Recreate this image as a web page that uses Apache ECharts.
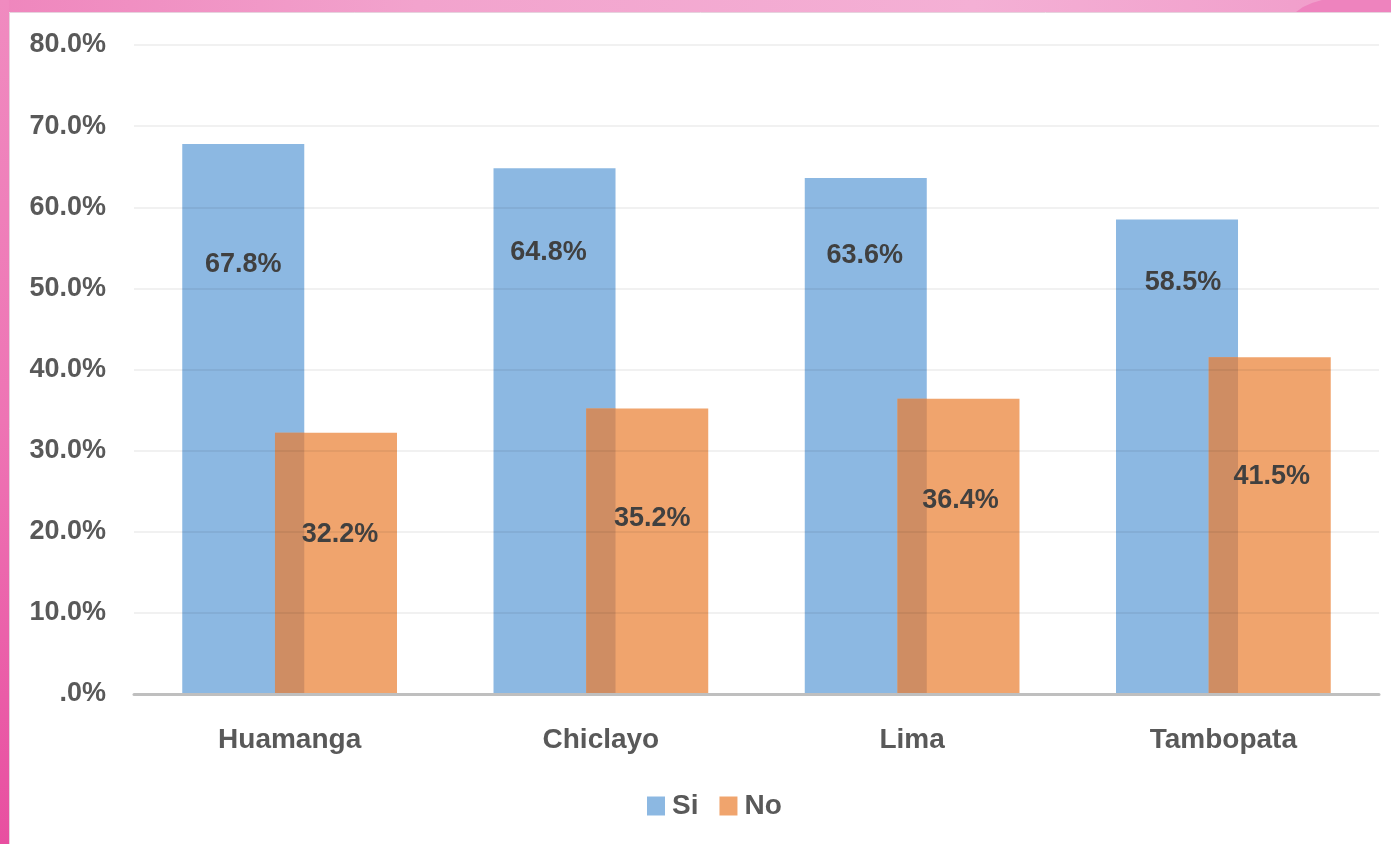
<!DOCTYPE html>
<html>
<head>
<meta charset="utf-8">
<title>Si / No por ciudad</title>
<script src="https://cdn.jsdelivr.net/npm/echarts@6/dist/echarts.min.js"></script>
<style>
  html, body { margin: 0; padding: 0; background: #ffffff; }
  #chart { width: 1391px; height: 844px; }
</style>
</head>
<body>
<div id="chart"></div>
<script>
// ---- data ----
const categories = ['Huamanga', 'Chiclayo', 'Lima', 'Tambopata'];
const siValues = [67.8, 64.8, 63.6, 58.5];
const noValues = [32.2, 35.2, 36.4, 41.5];
const yTickLabels = ['.0%', '10.0%', '20.0%', '30.0%', '40.0%', '50.0%', '60.0%', '70.0%', '80.0%'];
const seriesNames = ['Si', 'No'];

// label placement inside each bar: [dx, dy below the bar top]
const siLabelOffsets = [[0, 107], [-6, 71], [-1, 64], [6, 50]];
const noLabelOffsets = [[4, 88], [5, 97], [2, 88], [2, 106]];

// ---- styling ----
const FONT = '"Liberation Sans", Arial, sans-serif';
const BLUE = '#8cb8e2';
const ORANGE = '#f0a46d';
const OVERLAP = '#cf8d63';
const LABEL_COLOR = '#404040';
const BAR_RATIO = 0.392;   // bar width as share of the category band
const GAP_RATIO = -0.24;   // negative gap: bars overlap

const fmtPct = v => v.toFixed(1) + '%';

function withLabels(values, offsets) {
  return values.map((v, i) => ({
    value: v,
    label: { offset: [offsets[i][0], offsets[i][1]] }
  }));
}

// pixel geometry of the two bars inside one category band
function barGeometry(api, idx) {
  const band = api.size([1, 0])[0];
  const bw = band * BAR_RATIO;
  const ov = -GAP_RATIO * bw;
  const base = api.coord([idx, 0]);
  const siLeft = base[0] - (2 * bw - ov) / 2;
  const noLeft = siLeft + bw - ov;
  return { bw, ov, baseY: base[1], siLeft, noLeft };
}

// darker strip where the two bars of a category overlap
function renderOverlap(params, api) {
  const idx = api.value(0);
  const g = barGeometry(api, idx);
  const topY = api.coord([idx, api.value(1)])[1];
  return {
    type: 'rect',
    shape: { x: g.noLeft, y: topY, width: g.ov, height: g.baseY - topY },
    style: { fill: OVERLAP }
  };
}

// value labels of the "No" bars, kept above the overlap strip
function renderNoLabel(params, api) {
  const idx = api.value(0);
  const v = api.value(1);
  const g = barGeometry(api, idx);
  const topY = api.coord([idx, v])[1];
  const off = noLabelOffsets[idx];
  return {
    type: 'text',
    x: g.noLeft + g.bw / 2 + off[0],
    y: topY + off[1],
    style: {
      text: fmtPct(v),
      fill: LABEL_COLOR,
      fontFamily: FONT,
      fontWeight: 'bold',
      fontSize: 27,
      align: 'center',
      verticalAlign: 'top'
    }
  };
}

const overlapData = categories.map((c, i) => [i, Math.min(siValues[i], noValues[i])]);
const noLabelData = categories.map((c, i) => [i, noValues[i]]);

const chart = echarts.init(document.getElementById('chart'), null, { renderer: 'canvas' });

chart.setOption({
  backgroundColor: '#ffffff',
  animation: false,
  graphic: [
    {
      type: 'rect', silent: true, z: 100,
      shape: { x: 0, y: 0, width: 1391, height: 12 },
      style: {
        fill: new echarts.graphic.LinearGradient(0, 0, 1, 0, [
          { offset: 0, color: '#ef86bd' },
          { offset: 0.3, color: '#f2a3cd' },
          { offset: 0.7, color: '#f4b0d5' },
          { offset: 0.93, color: '#f1a0cc' },
          { offset: 1, color: '#f09ac8' }
        ])
      }
    },
    {
      type: 'polygon', silent: true, z: 101,
      shape: { points: [[1296, 12], [1303, 7], [1312, 3], [1322, 0], [1391, 0], [1391, 12]] },
      style: { fill: '#ee83be' }
    },
    {
      type: 'rect', silent: true, z: 102,
      shape: { x: 0, y: 0, width: 9, height: 844 },
      style: {
        fill: new echarts.graphic.LinearGradient(0, 0, 0, 1, [
          { offset: 0, color: '#f08bc0' },
          { offset: 0.5, color: '#ee74b4' },
          { offset: 1, color: '#e84fa0' }
        ])
      }
    },
    {
      type: 'polyline', silent: true, z: 103,
      shape: { points: [[9.5, 844], [9.5, 12.5], [1391, 12.5]] },
      style: { stroke: '#e6d3de', lineWidth: 1, fill: null }
    }
  ],
  grid: { left: 134, right: 12, top: 45, bottom: 150, containLabel: false },
  legend: {
    data: seriesNames,
    left: 647,
    top: 792,
    padding: 0,
    itemGap: 21,
    itemWidth: 18,
    itemHeight: 19,
    icon: 'rect',
    textStyle: { color: '#595959', fontFamily: FONT, fontSize: 28, fontWeight: 'bold', padding: [0, 0, 0, 2] }
  },
  xAxis: {
    type: 'category',
    data: categories,
    z: 4,
    axisLine: { show: true, lineStyle: { color: '#bfbfbf', width: 3 } },
    axisTick: { show: false },
    axisLabel: { margin: 32, color: '#595959', fontFamily: FONT, fontSize: 28, fontWeight: 'bold' },
    splitLine: { show: false }
  },
  yAxis: {
    type: 'value',
    min: 0,
    max: 80,
    interval: 10,
    z: 4,
    axisLine: { show: false },
    axisTick: { show: false },
    axisLabel: {
      margin: 28,
      color: '#595959',
      fontFamily: FONT,
      fontSize: 27,
      fontWeight: 'bold',
      formatter: v => yTickLabels[Math.round(v / 10)]
    },
    splitLine: { show: true, lineStyle: { color: 'rgba(0,0,0,0.055)', width: 2 } }
  },
  series: [
    {
      name: seriesNames[0],
      type: 'bar',
      z: 2,
      barWidth: (BAR_RATIO * 100) + '%',
      barGap: (GAP_RATIO * 100) + '%',
      itemStyle: { color: BLUE },
      label: {
        show: true,
        position: 'insideTop',
        distance: 0,
        color: LABEL_COLOR,
        fontFamily: FONT,
        fontWeight: 'bold',
        fontSize: 27,
        formatter: p => fmtPct(p.value)
      },
      data: withLabels(siValues, siLabelOffsets)
    },
    {
      name: seriesNames[1],
      type: 'bar',
      z: 2,
      barWidth: (BAR_RATIO * 100) + '%',
      barGap: (GAP_RATIO * 100) + '%',
      itemStyle: { color: ORANGE },
      data: noValues
    },
    {
      name: 'overlap',
      type: 'custom',
      silent: true,
      z: 3,
      coordinateSystem: 'cartesian2d',
      renderItem: renderOverlap,
      encode: { x: 0, y: 1 },
      data: overlapData
    },
    {
      name: 'noLabels',
      type: 'custom',
      silent: true,
      z: 5,
      coordinateSystem: 'cartesian2d',
      renderItem: renderNoLabel,
      encode: { x: 0, y: 1 },
      data: noLabelData
    }
  ]
});
</script>
</body>
</html>
